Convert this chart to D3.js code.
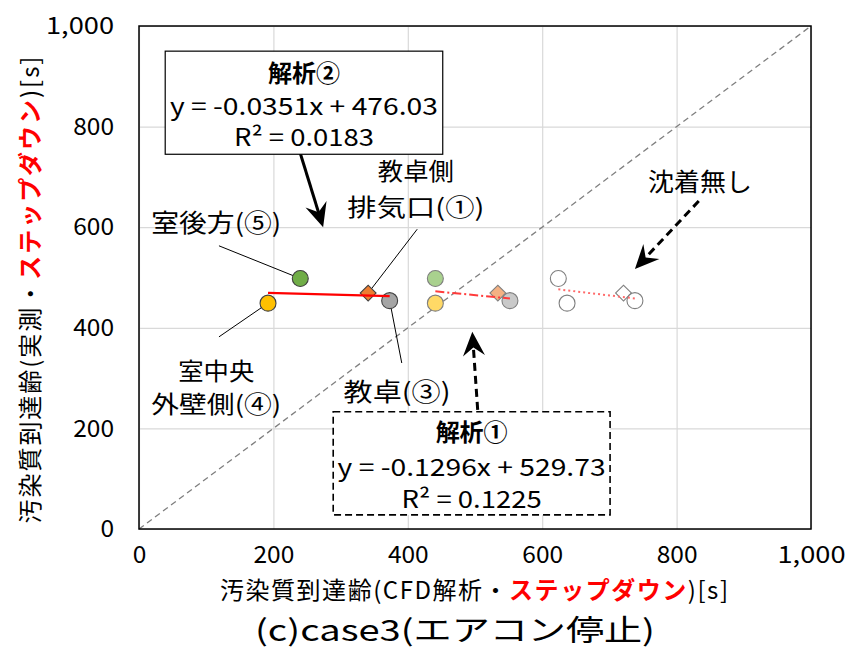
<!DOCTYPE html>
<html>
<head>
<meta charset="utf-8">
<script src="https://cdn.jsdelivr.net/npm/d3@7"></script>
<style>
  body { margin: 0; background: #fff; }
  text { font-family: "Noto Sans CJK JP", "Noto Sans", sans-serif; fill: #000; }
</style>
</head>
<body>
<svg width="854" height="648"></svg>
<script>
// measured arrival age (y) for each sampling point, shared by all three analyses
const pointIds = ["①", "③", "④", "⑤"];
const measured = [469, 454, 449, 498];
// simulated arrival age (x) per analysis
const xAnalysis2 = [341, 373, 192, 240];
const xAnalysis1 = [534, 552, 441, 441];
const xNoDeposit = [721, 738, 637, 624];
// trendline coefficients (slope, intercept)
const trendSlope = [-0.0351, -0.1296, -0.158];
const trendIntercept = [476.03, 529.73, 575.0];
const ticks = [0, 200, 400, 600, 800, 1000];

const fillsStrong = ["#ed7d31", "#a5a5a5", "#ffc000", "#70ad47"];
const fillsLight = ["#f4b183", "#c9c9c9", "#ffd966", "#a9d18e"];

const svg = d3.select("svg"),
    margin = {top: 26, right: 43, bottom: 119, left: 139},
    width = +svg.attr("width") - margin.left - margin.right,
    height = +svg.attr("height") - margin.top - margin.bottom;

const x = d3.scaleLinear().domain([0, 1000]).range([0, width]);
const y = d3.scaleLinear().domain([0, 1000]).range([height, 0]);

const g = svg.append("g").attr("transform", `translate(${margin.left},${margin.top})`);

// grid + tick labels (half-width monospace look: ~13.6px per char)
const yAxis = g.append("g")
    .call(d3.axisLeft(y).tickValues(ticks).tickSize(-width).tickPadding(25).tickFormat(d3.format(",")));
const xAxis = g.append("g").attr("transform", `translate(0,${height})`)
    .call(d3.axisBottom(x).tickValues(ticks).tickSize(-height).tickPadding(17).tickFormat(d3.format(",")));
[xAxis, yAxis].forEach(a => {
    a.select(".domain").remove();
    a.selectAll("line").attr("stroke", "#d9d9d9").attr("stroke-width", 1.2);
    a.selectAll("text").style("font-size", "24px").attr("fill", "#000")
        .attr("textLength", function () { return this.textContent.length * 13.6; })
        .attr("lengthAdjust", "spacingAndGlyphs");
});

// y = x reference
g.append("line")
    .attr("x1", x(0)).attr("y1", y(0)).attr("x2", x(1000)).attr("y2", y(1000))
    .attr("stroke", "#7f7f7f").attr("stroke-width", 1.3).attr("stroke-dasharray", "6,4");

// plot border
g.append("rect").attr("width", width).attr("height", height)
    .attr("fill", "none").attr("stroke", "#000").attr("stroke-width", 1.5);

// leader lines (drawn under the markers)
const leaders = [
    {from: [119, 563], to: [xAnalysis2[3], measured[3]]},
    {from: [119, 382], to: [xAnalysis2[2], measured[2]]},
    {from: [414, 596], to: [xAnalysis2[0], measured[0]]},
    {from: [391, 330], to: [xAnalysis2[1], measured[1]]}
];
g.selectAll(".leader").data(leaders).enter().append("line")
    .attr("x1", d => x(d.from[0])).attr("y1", d => y(d.from[1]))
    .attr("x2", d => x(d.to[0])).attr("y2", d => y(d.to[1]))
    .attr("stroke", "#000").attr("stroke-width", 1);

// markers
const groups = [
    {xs: xAnalysis2, fills: fillsStrong, stroke: "#404040"},
    {xs: xAnalysis1, fills: fillsLight, stroke: "#7f7f7f"},
    {xs: xNoDeposit, fills: ["#fff", "#fff", "#fff", "#fff"], stroke: "#7f7f7f"}
];
groups.forEach(grp => {
    const pts = grp.xs.map((v, i) => ({x: v, y: measured[i], id: pointIds[i], fill: grp.fills[i]}));
    g.append("g").selectAll("path").data(pts).enter().append("path")
        .attr("transform", d => `translate(${x(d.x)},${y(d.y)})` + (d.id === "①" ? " rotate(45)" : ""))
        .attr("d", d => d.id === "①" ? d3.symbol(d3.symbolSquare, 125)() : d3.symbol(d3.symbolCircle, 200)())
        .attr("fill", d => d.fill)
        .attr("stroke", grp.stroke).attr("stroke-width", 1.1);
});

// trendlines
const trendStyles = [
    {color: "#ff0000", dash: null, w: 2.2},
    {color: "#ff3b3b", dash: "9,3,2,3", w: 2},
    {color: "#ff6b6b", dash: "2,3", w: 2}
];
groups.forEach((grp, i) => {
    const [x0, x1] = d3.extent(grp.xs);
    g.append("line")
        .attr("x1", x(x0)).attr("y1", y(trendSlope[i] * x0 + trendIntercept[i]))
        .attr("x2", x(x1)).attr("y2", y(trendSlope[i] * x1 + trendIntercept[i]))
        .attr("stroke", trendStyles[i].color).attr("stroke-width", trendStyles[i].w)
        .attr("stroke-dasharray", trendStyles[i].dash);
});

// arrows
function arrow(from, to, dashed) {
    const x1 = x(from[0]), y1 = y(from[1]), x2 = x(to[0]), y2 = y(to[1]);
    const len = Math.hypot(x2 - x1, y2 - y1), ux = (x2 - x1) / len, uy = (y2 - y1) / len;
    const L = 24, W = 11;
    g.append("line")
        .attr("x1", x1).attr("y1", y1).attr("x2", x2 - ux * L * 0.6).attr("y2", y2 - uy * L * 0.6)
        .attr("stroke", "#000").attr("stroke-width", 3)
        .attr("stroke-dasharray", dashed ? "8,5" : null);
    const pts = [
        [x2, y2],
        [x2 - ux * L - uy * W, y2 - uy * L + ux * W],
        [x2 - ux * L * 0.65, y2 - uy * L * 0.65],
        [x2 - ux * L + uy * W, y2 - uy * L - ux * W]
    ];
    g.append("path").attr("d", "M" + pts.join("L") + "Z").attr("fill", "#000");
}
arrow([240, 747], [274, 600], false);
arrow([504, 237], [496, 392], true);
arrow([833, 652], [738, 517], true);

// text labels
function label(txt, dx, dy, size, weight, len) {
    const t = g.append("text").attr("x", x(dx)).attr("y", y(dy))
        .attr("text-anchor", "middle").attr("dominant-baseline", "central")
        .style("font-size", size + "px").style("font-weight", weight || "normal")
        .text(txt);
    if (len) t.attr("textLength", len).attr("lengthAdjust", "spacingAndGlyphs");
    return t;
}
label("室後方(⑤)", 115, 612, 25, null, 130);
label("室中央", 115, 317, 24, null, 76);
label("外壁側(④)", 115, 251, 24, null, 130);
label("教卓側", 412, 715, 24, null, 76);
label("排気口(①)", 412, 643, 24, null, 137);
label("教卓(③)", 384, 276, 25, null, 107);
label("沈着無し", 835, 694, 25, null, 104);

// equation boxes
const boxes = [
    {x0: 39, x1: 452, y0: 950, y1: 745, dashed: false, title: "解析②",
     eq: "y = -0.0351x + 476.03", r2: "0.0183", ty: [909, 843, 783]},
    {x0: 289, x1: 701, y0: 233, y1: 28, dashed: true, title: "解析①",
     eq: "y = -0.1296x + 529.73", r2: "0.1225", ty: [195, 127, 62]}
];
boxes.forEach(b => {
    g.append("rect")
        .attr("x", x(b.x0)).attr("y", y(b.y0))
        .attr("width", x(b.x1) - x(b.x0)).attr("height", y(b.y1) - y(b.y0))
        .attr("fill", "#fff").attr("stroke", "#000").attr("stroke-width", b.dashed ? 1.6 : 1.2)
        .attr("stroke-dasharray", b.dashed ? "7,4" : null);
    const cx = (b.x0 + b.x1) / 2;
    label(b.title, cx, b.ty[0], 24, "bold");
    label(b.eq, cx, b.ty[1], 24, null, 268);
    label("R² = " + b.r2, cx, b.ty[2], 24, null, 140);
});

// axis titles
const yTitle = svg.append("text")
    .attr("transform", `translate(28,${margin.top + 264}) rotate(-90)`)
    .attr("text-anchor", "middle").attr("dominant-baseline", "central")
    .attr("textLength", 467).attr("lengthAdjust", "spacing")
    .style("font-size", "24px");
yTitle.append("tspan").text("汚染質到達齢(実測・");
yTitle.append("tspan").text("ステップダウン").attr("fill", "#ff0000").style("font-weight", "bold");
yTitle.append("tspan").text(")[s]");

const xTitle = svg.append("text")
    .attr("x", 474).attr("y", 588)
    .attr("text-anchor", "middle").attr("dominant-baseline", "central")
    .attr("textLength", 508).attr("lengthAdjust", "spacing")
    .style("font-size", "24px");
xTitle.append("tspan").text("汚染質到達齢(CFD解析・");
xTitle.append("tspan").text("ステップダウン").attr("fill", "#ff0000").style("font-weight", "bold");
xTitle.append("tspan").text(")[s]");

svg.append("text")
    .attr("x", 455).attr("y", 628)
    .attr("text-anchor", "middle").attr("dominant-baseline", "central")
    .attr("textLength", 400).attr("lengthAdjust", "spacingAndGlyphs")
    .style("font-size", "29px")
    .text("(c)case3(エアコン停止)");
</script>
</body>
</html>
